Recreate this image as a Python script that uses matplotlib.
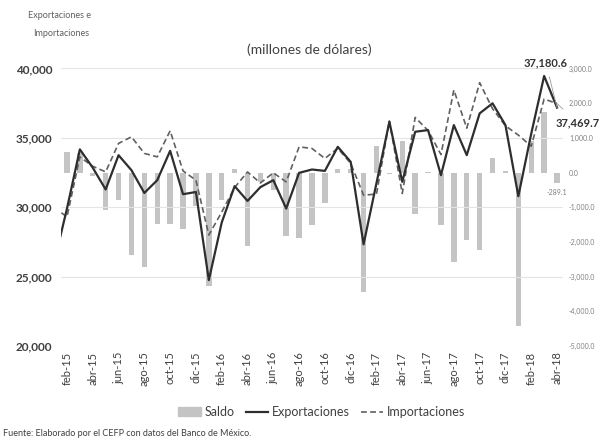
import numpy as np
import matplotlib.pyplot as plt
from matplotlib.lines import Line2D
from matplotlib.patches import Patch

plt.rcParams['font.family'] = ['Lato', 'DejaVu Sans']

# meses feb-15 .. abr-18
meses = ['feb-15', 'mar-15', 'abr-15', 'may-15', 'jun-15', 'jul-15', 'ago-15', 'sep-15',
         'oct-15', 'nov-15', 'dic-15', 'ene-16', 'feb-16', 'mar-16', 'abr-16', 'may-16',
         'jun-16', 'jul-16', 'ago-16', 'sep-16', 'oct-16', 'nov-16', 'dic-16', 'ene-17',
         'feb-17', 'mar-17', 'abr-17', 'may-17', 'jun-17', 'jul-17', 'ago-17', 'sep-17',
         'oct-17', 'nov-17', 'dic-17', 'ene-18', 'feb-18', 'mar-18', 'abr-18']

exportaciones = [29900, 34170, 32850, 31280, 33750, 32670, 31030, 31950, 34065, 30940,
                 31100, 24750, 28900, 31520, 30455, 31450, 31950, 29905, 32480, 32720,
                 32620, 34355, 33270, 27330, 31740, 36160, 31830, 35440, 35560, 32310,
                 35920, 33755, 36765, 37490, 35920, 30795, 35300, 39460, 37180.6]

importaciones = [29300, 33630, 32950, 32550, 34600, 35075, 33880, 33630, 35510, 32620,
                 31950, 28000, 29650, 31420, 32545, 31750, 32480, 31830, 34355, 34235,
                 33515, 34250, 33170, 30870, 30950, 36210, 30990, 36475, 35530, 33800,
                 38450, 35700, 38975, 37100, 35870, 35200, 34400, 37800, 37469.7]

saldo = [600, 550, -90, -1090, -795, -2385, -2730, -1470, -1490, -1615,
         -950, -3280, -780, 100, -2130, -265, -505, -1835, -1885, -1515,
         -870, 100, 100, -3445, 765, -50, 920, -1200, 30, -1517,
         -2578, -1930, -2240, 410, 50, -4436, 900, 1757, -289.1]

# ene-15: sólo se ve el tramo recortado en el borde izquierdo
exp_ene15 = 26000
imp_ene15 = 30000

x = np.arange(len(meses))
x_lineas = np.arange(-1, len(meses))
exp_lineas = [exp_ene15] + exportaciones
imp_lineas = [imp_ene15] + importaciones

fig = plt.figure(figsize=(6.07, 4.41), dpi=100)
ax = fig.add_axes([0.0997, 0.2154, 0.8286, 0.6293])
ax2 = ax.twinx()
ax.set_zorder(ax2.get_zorder() + 1)
ax.patch.set_visible(False)

ax2.bar(x, saldo, width=0.42, color='#c4c4c4', zorder=1)
ax.plot(x_lineas, exp_lineas, color='#2e2e2e', lw=1.6, zorder=3)
ax.plot(x_lineas, imp_lineas, color='#606060', lw=1.2, ls=(0, (3.5, 2)), zorder=2)

ax.set_xlim(-0.5, len(meses) - 0.5)
ax.set_ylim(20000, 40000)
ax2.set_ylim(-5000, 3000)
ax.set_yticks([20000, 25000, 30000, 35000, 40000])
ax.set_yticklabels([f'{v:,}' for v in [20000, 25000, 30000, 35000, 40000]],
                   fontsize=8.5, color='#404040', fontweight='bold')
r_ticks = list(range(-5000, 3001, 1000))
ax2.set_yticks(r_ticks)
ax2.set_yticklabels([f'{v:,.1f}' for v in r_ticks], fontsize=5, color='#808080')

ax.set_xticks(x[::2])
ax.set_xticklabels(meses[::2], rotation=90, fontsize=8, color='#404040')

ax.grid(axis='y', color='#e4e4e4', lw=0.8)
for a in (ax, ax2):
    for s in a.spines.values():
        s.set_visible(False)
    a.tick_params(length=0)
ax.tick_params(axis='y', pad=6)
ax.tick_params(axis='x', pad=4)
ax2.tick_params(axis='y', pad=4)

# etiquetas de abr-18
ax.annotate(f'{exportaciones[-1]:,.1f}', xy=(x[-1], exportaciones[-1]),
            xytext=(-8, 32), textcoords='offset points', ha='center', va='center',
            fontsize=8, fontweight='bold', color='#333333',
            arrowprops=dict(arrowstyle='-', color='#999999', lw=0.6, shrinkA=4, shrinkB=0))
ax.annotate(f'{importaciones[-1]:,.1f}', xy=(x[-1], importaciones[-1]),
            xytext=(15, -14), textcoords='offset points', ha='center', va='center',
            fontsize=8, fontweight='bold', color='#333333',
            arrowprops=dict(arrowstyle='-', color='#999999', lw=0.6, shrinkA=6, shrinkB=0))
ax2.annotate(f'{saldo[-1]:,.1f}', xy=(x[-1], saldo[-1]), xytext=(0, -7),
             textcoords='offset points', ha='center', va='center',
             fontsize=5, color='#808080')

fig.text(0.046, 0.965, 'Exportaciones e', fontsize=6.5, color='#606060', ha='left', va='center')
fig.text(0.055, 0.925, 'Importaciones', fontsize=6.5, color='#606060', ha='left', va='center')
fig.text(0.51, 0.888, '(millones de dólares)', fontsize=10, color='#404040', ha='center', va='center')

handles = [Patch(color='#c4c4c4'),
           Line2D([], [], color='#2e2e2e', lw=1.6),
           Line2D([], [], color='#606060', lw=1.2, ls=(0, (3.5, 2)))]
fig.legend(handles, ['Saldo', 'Exportaciones', 'Importaciones'], loc='center',
           bbox_to_anchor=(0.53, 0.066), ncol=3, frameon=False, fontsize=9,
           handlelength=1.8, handletextpad=0.3, columnspacing=0.9, labelcolor='#404040')

fig.text(0.005, 0.018, 'Fuente: Elaborado por el CEFP con datos del Banco de México.',
         fontsize=6.5, color='#404040', ha='left', va='center')

fig.savefig('out.png', dpi=100)
